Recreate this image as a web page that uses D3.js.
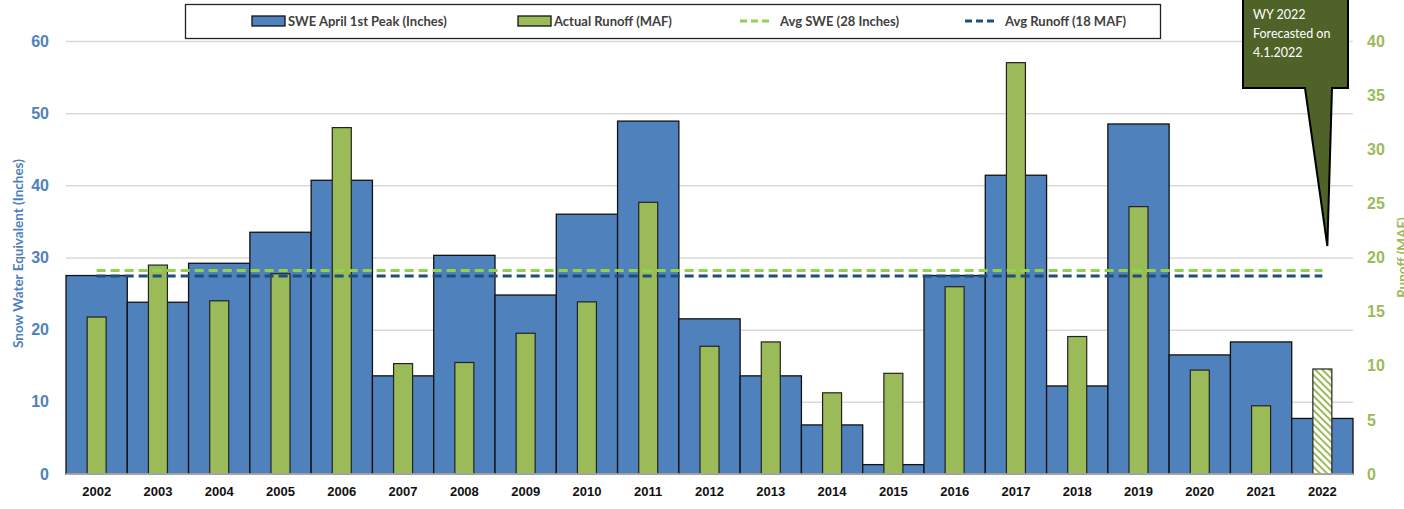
<!DOCTYPE html>
<html>
<head>
<meta charset="utf-8">
<script src="https://cdnjs.cloudflare.com/ajax/libs/d3/7.8.5/d3.min.js"></script>
<style>
  body { margin: 0; background: #fff; }
  svg { display: block; font-family: Lato, "Open Sans", sans-serif; }
</style>
</head>
<body>
<svg width="1404" height="509"></svg>
<script>
// data
const years = ['2002','2003','2004','2005','2006','2007','2008','2009','2010','2011',
               '2012','2013','2014','2015','2016','2017','2018','2019','2020','2021','2022'];
const swe = [27.5, 23.8, 29.2, 33.5, 40.7, 13.6, 30.3, 24.8, 36.0, 48.9,
             21.5, 13.6, 6.8, 1.3, 27.5, 41.4, 12.2, 48.5, 16.5, 18.3, 7.7];
const runoff = [14.5, 19.3, 16.0, 18.5, 32.0, 10.2, 10.3, 13.0, 15.9, 25.1,
                11.8, 12.2, 7.5, 9.3, 17.3, 38.0, 12.7, 24.7, 9.6, 6.3, 9.7];
const forecastYear = '2022';
const avgSWE = 28.2;     // inches
const avgRunoff = 18.3;  // MAF
const leftTicks = [0, 10, 20, 30, 40, 50, 60];
const rightTicks = [0, 5, 10, 15, 20, 25, 30, 35, 40];
const legendItems = [
  { label: 'SWE April 1st Peak (Inches)', type: 'rect', color: '#4F81BD' },
  { label: 'Actual Runoff (MAF)', type: 'rect', color: '#9BBB59' },
  { label: 'Avg SWE (28 Inches)', type: 'line', color: '#92D050' },
  { label: 'Avg Runoff (18 MAF)', type: 'line', color: '#1F4E79' }
];
const calloutLines = ['WY 2022', 'Forecasted on', '4.1.2022'];

const svg = d3.select('svg');
const data = years.map((y, i) => ({ year: y, swe: swe[i], runoff: runoff[i] }));

const margin = { top: 41, right: 51, bottom: 35, left: 66 };
const width = +svg.attr('width');
const height = +svg.attr('height');
const innerWidth = width - margin.left - margin.right;
const innerHeight = height - margin.top - margin.bottom;

const xScale = d3.scaleBand().domain(years).range([0, innerWidth]).padding(0);
const yLeft = d3.scaleLinear().domain([0, 60]).range([innerHeight, 0]);
const yRight = d3.scaleLinear().domain([0, 40]).range([innerHeight, 0]);

// hatch for forecast bar
const defs = svg.append('defs');
const pat = defs.append('pattern')
  .attr('id', 'hatch')
  .attr('patternUnits', 'userSpaceOnUse')
  .attr('width', 5).attr('height', 5)
  .attr('patternTransform', 'rotate(-45)');
pat.append('rect').attr('width', 5).attr('height', 5).attr('fill', '#fff');
pat.append('rect').attr('x', 0).attr('width', 2).attr('height', 5).attr('fill', '#9BBB59');

const g = svg.append('g').attr('transform', `translate(${margin.left},${margin.top})`);

// gridlines
g.append('g')
  .call(d3.axisLeft(yLeft).tickValues(leftTicks.slice(1)).tickSize(-innerWidth).tickFormat(''))
  .call(s => s.select('.domain').remove())
  .call(s => s.selectAll('line').attr('stroke', '#D9D9D9').attr('stroke-width', 1.5));

// SWE bars
g.selectAll('rect.swe').data(data)
  .enter().append('rect')
    .attr('class', 'swe')
    .attr('x', d => xScale(d.year))
    .attr('y', d => yLeft(d.swe))
    .attr('width', xScale.bandwidth())
    .attr('height', d => innerHeight - yLeft(d.swe))
    .attr('fill', '#4F81BD')
    .attr('stroke', '#111')
    .attr('stroke-width', 1.3);

// runoff bars
const rw = xScale.bandwidth() * 0.31;
g.selectAll('rect.runoff').data(data)
  .enter().append('rect')
    .attr('class', 'runoff')
    .attr('x', d => xScale(d.year) + (xScale.bandwidth() - rw) / 2)
    .attr('y', d => yRight(d.runoff))
    .attr('width', rw)
    .attr('height', d => innerHeight - yRight(d.runoff))
    .attr('fill', d => d.year === forecastYear ? 'url(#hatch)' : '#9BBB59')
    .attr('stroke', '#222')
    .attr('stroke-width', 1.2);

// baseline
g.append('line')
  .attr('x1', 0).attr('x2', innerWidth)
  .attr('y1', innerHeight).attr('y2', innerHeight)
  .attr('stroke', '#BFBFBF').attr('stroke-width', 1.5);

// average lines
const xFirst = xScale(years[0]) + xScale.bandwidth() / 2;
const xLast = xScale(years[years.length - 1]) + xScale.bandwidth() / 2;
g.append('line')
  .attr('x1', xFirst).attr('x2', xLast)
  .attr('y1', yLeft(avgSWE)).attr('y2', yLeft(avgSWE))
  .attr('stroke', '#92D050').attr('stroke-width', 3).attr('stroke-dasharray', '9,5');
g.append('line')
  .attr('x1', xFirst).attr('x2', xLast)
  .attr('y1', yRight(avgRunoff)).attr('y2', yRight(avgRunoff))
  .attr('stroke', '#1F4E79').attr('stroke-width', 3).attr('stroke-dasharray', '9,5');

// axes
g.append('g')
  .call(d3.axisLeft(yLeft).tickValues(leftTicks).tickSize(0).tickPadding(17))
  .call(s => s.select('.domain').remove())
  .call(s => s.selectAll('text').attr('fill', '#4F81BD').attr('font-size', 16).attr('font-weight', 700));

g.append('g')
  .attr('transform', `translate(${innerWidth},0)`)
  .call(d3.axisRight(yRight).tickValues(rightTicks).tickSize(0).tickPadding(14))
  .call(s => s.select('.domain').remove())
  .call(s => s.selectAll('text').attr('fill', '#9BBB59').attr('font-size', 16).attr('font-weight', 700));

g.append('g')
  .attr('transform', `translate(0,${innerHeight})`)
  .call(d3.axisBottom(xScale).tickSize(0).tickPadding(13))
  .call(s => s.select('.domain').remove())
  .call(s => s.selectAll('text').attr('fill', '#111').attr('font-size', 13).attr('font-weight', 700));

// axis titles
svg.append('text')
  .attr('transform', `translate(23,${margin.top + innerHeight / 2 - 4}) rotate(-90)`)
  .attr('text-anchor', 'middle')
  .attr('fill', '#4F81BD').attr('font-size', 13.5).attr('font-weight', 700)
  .text('Snow Water Equivalent (Inches)');
svg.append('text')
  .attr('transform', `translate(1407,${margin.top + innerHeight / 2}) rotate(-90)`)
  .attr('text-anchor', 'middle')
  .attr('fill', '#9BBB59').attr('font-size', 13.5).attr('font-weight', 700)
  .text('Runoff (MAF)');

// legend
const legend = svg.append('g');
legend.append('rect')
  .attr('x', 185.5).attr('y', 4.5).attr('width', 975).attr('height', 34)
  .attr('fill', '#fff').attr('stroke', '#222').attr('stroke-width', 1.3);
const legendX = [252, 518, 740, 965];
legendItems.forEach((d, i) => {
  const it = legend.append('g').attr('transform', `translate(${legendX[i]},21)`);
  if (d.type === 'rect') {
    it.append('rect').attr('x', 0).attr('y', -5).attr('width', 33).attr('height', 10)
      .attr('fill', d.color).attr('stroke', '#111').attr('stroke-width', 1.3);
  } else {
    it.append('line').attr('x1', 0).attr('x2', 32).attr('y1', 0).attr('y2', 0)
      .attr('stroke', d.color).attr('stroke-width', 3).attr('stroke-dasharray', '7,4');
  }
  it.append('text').attr('x', d.type === 'rect' ? 36 : 40).attr('y', 4.5)
    .attr('font-size', 13).attr('font-weight', 700).attr('fill', '#404040')
    .text(d.label);
});

// callout for the forecast year
const tipX = margin.left + xScale(forecastYear) + xScale.bandwidth() / 2 + 5;
const tipY = 246;
const callout = svg.append('g');
callout.append('path')
  .attr('d', `M1243,-2 L1348,-2 L1348,88 L1332,88 L${tipX},${tipY} L1305,88 L1243,88 Z`)
  .attr('fill', '#4F6228').attr('stroke', '#000').attr('stroke-width', 2)
  .attr('stroke-linejoin', 'miter');
callout.selectAll('text').data(calloutLines)
  .enter().append('text')
    .attr('x', 1253).attr('y', (d, i) => 19 + i * 19)
    .attr('fill', '#fff').attr('font-size', 12.5)
    .text(d => d);
</script>
</body>
</html>
